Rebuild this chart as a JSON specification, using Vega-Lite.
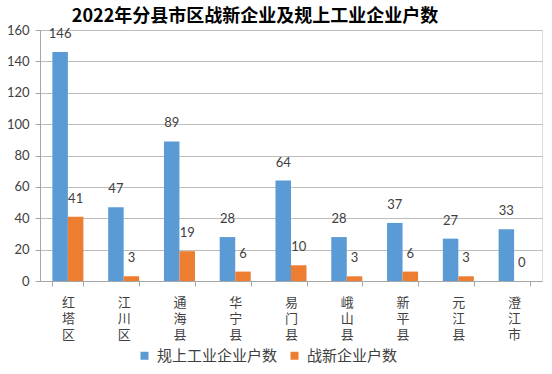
{
  "$schema": "https://vega.github.io/schema/vega-lite/v6.json",
  "width": 502,
  "height": 251,
  "autosize": "none",
  "padding": {"left": 40, "top": 30, "right": 10, "bottom": 93},
  "background": "white",
  "title": {
    "text": "2022年分县市区战新企业及规上工业企业户数",
    "font": "Noto Sans CJK SC",
    "fontSize": 18,
    "fontWeight": "bold",
    "color": "#000000",
    "anchor": "middle",
    "dx": -36,
    "offset": -2
  },
  "data": {
    "values": [
      {"district": "红塔区", "series": "规上工业企业户数", "value": 146},
      {"district": "红塔区", "series": "战新企业户数", "value": 41},
      {"district": "江川区", "series": "规上工业企业户数", "value": 47},
      {"district": "江川区", "series": "战新企业户数", "value": 3},
      {"district": "通海县", "series": "规上工业企业户数", "value": 89},
      {"district": "通海县", "series": "战新企业户数", "value": 19},
      {"district": "华宁县", "series": "规上工业企业户数", "value": 28},
      {"district": "华宁县", "series": "战新企业户数", "value": 6},
      {"district": "易门县", "series": "规上工业企业户数", "value": 64},
      {"district": "易门县", "series": "战新企业户数", "value": 10},
      {"district": "峨山县", "series": "规上工业企业户数", "value": 28},
      {"district": "峨山县", "series": "战新企业户数", "value": 3},
      {"district": "新平县", "series": "规上工业企业户数", "value": 37},
      {"district": "新平县", "series": "战新企业户数", "value": 6},
      {"district": "元江县", "series": "规上工业企业户数", "value": 27},
      {"district": "元江县", "series": "战新企业户数", "value": 3},
      {"district": "澄江市", "series": "规上工业企业户数", "value": 33},
      {"district": "澄江市", "series": "战新企业户数", "value": 0}
    ]
  },
  "encoding": {
    "x": {
      "field": "district",
      "type": "nominal",
      "sort": null,
      "scale": {"paddingInner": 0.444, "paddingOuter": 0.222},
      "axis": {
        "title": null,
        "labelAngle": 0,
        "labelExpr": "split(datum.label, '')",
        "labelFont": "Noto Sans CJK SC",
        "labelFontSize": 13,
        "labelLineHeight": 16,
        "labelColor": "#404040",
        "labelBaseline": "top",
        "labelPadding": 10,
        "tickBand": "extent",
        "tickSize": 5,
        "tickColor": "#A6A6A6",
        "domainColor": "#A6A6A6",
        "grid": false
      }
    },
    "xOffset": {
      "field": "series",
      "type": "nominal",
      "sort": ["规上工业企业户数", "战新企业户数"],
      "scale": {"paddingInner": 0, "paddingOuter": 0}
    },
    "y": {
      "field": "value",
      "type": "quantitative",
      "scale": {"domain": [0, 160], "nice": false},
      "axis": {
        "title": null,
        "values": [0, 20, 40, 60, 80, 100, 120, 140, 160],
        "grid": true,
        "gridColor": "#BDBDBD",
        "domain": true,
        "domainColor": "#A6A6A6",
        "tickColor": "#A6A6A6",
        "tickSize": 5,
        "labelPadding": 6,
        "labelFont": "Lato",
        "labelFontSize": 13,
        "labelColor": "#404040"
      }
    }
  },
  "layer": [
    {
      "mark": {"type": "bar"},
      "encoding": {
        "color": {
          "field": "series",
          "type": "nominal",
          "sort": ["规上工业企业户数", "战新企业户数"],
          "scale": {"domain": ["规上工业企业户数", "战新企业户数"], "range": ["#5B9BD5", "#ED7D31"]},
          "legend": {
            "title": null,
            "orient": "none",
            "legendX": 97,
            "legendY": 318,
            "direction": "horizontal",
            "symbolType": "square",
            "symbolSize": 64,
            "symbolStrokeWidth": 0,
            "labelFont": "Noto Sans CJK SC",
            "labelFontSize": 15,
            "labelColor": "#404040",
            "labelOffset": 5,
            "columnPadding": 9
          }
        }
      }
    },
    {
      "mark": {"type": "text", "baseline": "middle", "dy": -18, "font": "Lato", "fontSize": 13, "color": "#404040"},
      "encoding": {
        "text": {"field": "value", "type": "quantitative"}
      }
    }
  ]
}
